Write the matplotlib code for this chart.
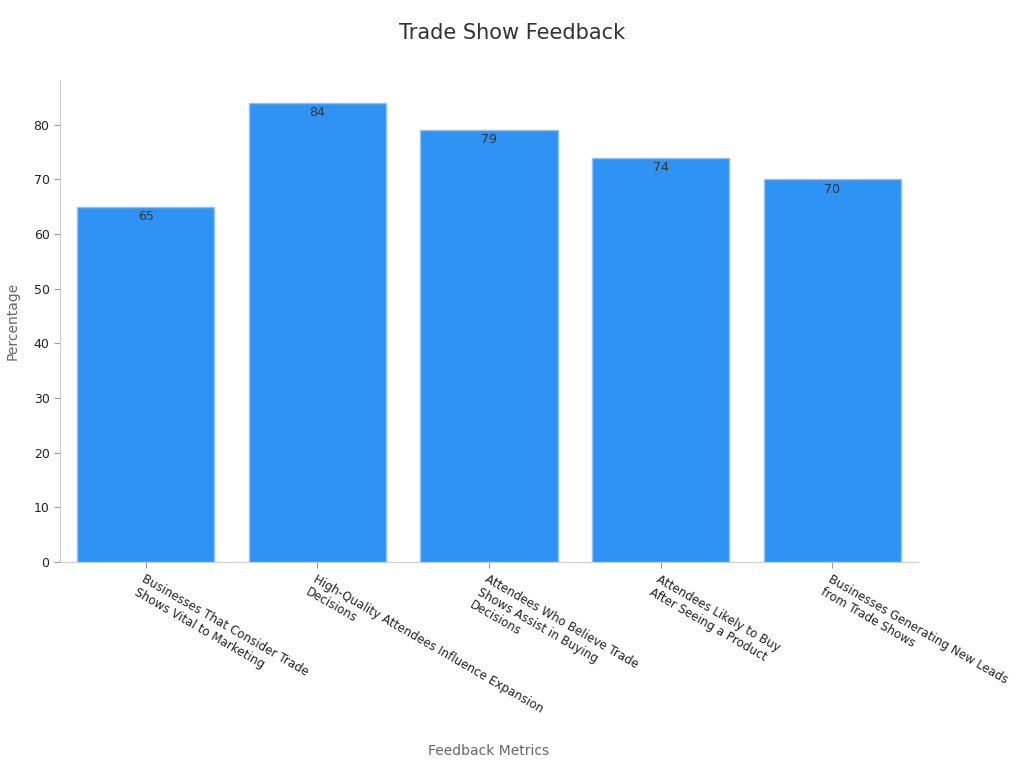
import matplotlib
matplotlib.use('Agg')
import matplotlib.pyplot as plt

categories = [
    'Businesses That Consider Trade\nShows Vital to Marketing',
    'High-Quality Attendees Influence Expansion\nDecisions',
    'Attendees Who Believe Trade\nShows Assist in Buying\nDecisions',
    'Attendees Likely to Buy\nAfter Seeing a Product',
    'Businesses Generating New Leads\nfrom Trade Shows',
]
values = [65, 84, 79, 74, 70]

fig = plt.figure(figsize=(10.24, 7.68), dpi=100)
ax = fig.add_axes([0.0586, 0.268, 0.8379, 0.628])

x = range(len(values))
bars = ax.bar(x, values, width=0.8, color='#2e93f5', edgecolor='#8cc4fa', linewidth=1)
for b, v in zip(bars, values):
    ax.text(b.get_x() + b.get_width() / 2, v - 0.6, str(v), ha='center', va='top',
            fontsize=9, color='#333333')

ax.set_xlim(-0.5, 4.5)
ax.set_ylim(0, 88.2)
ax.set_yticks(range(0, 81, 10))
ax.set_xticks(list(x))
ax.set_xticklabels(categories, rotation=-30, ha='left', rotation_mode='anchor',
                   fontsize=8.6, color='#222222')
ax.tick_params(axis='y', labelsize=9, colors='#222222')
ax.tick_params(axis='both', color='#999999', length=4)

for s in ['top', 'right']:
    ax.spines[s].set_visible(False)
for s in ['left', 'bottom']:
    ax.spines[s].set_color('#cccccc')

ax.set_ylabel('Percentage', fontsize=10, color='#666666', labelpad=10)
ax.set_xlabel('Feedback Metrics', fontsize=10, color='#666666')
ax.xaxis.set_label_coords(0.5, -0.377)
fig.text(0.5, 0.957, 'Trade Show Feedback', ha='center', va='center', fontsize=15, color='#333333')

fig.savefig('out.png', dpi=100)
